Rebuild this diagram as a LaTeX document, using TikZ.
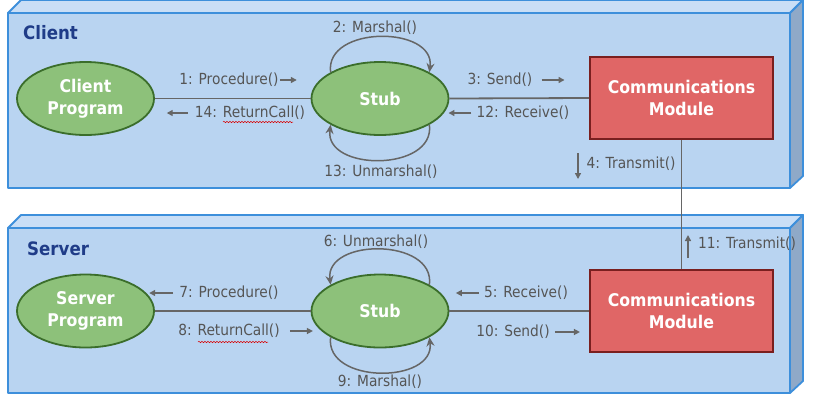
\documentclass[tikz,border=0pt]{standalone}
\usepackage{fontspec}
\setmainfont{DejaVu Sans}[FakeStretch=0.9]
\usetikzlibrary{arrows.meta,shapes.geometric,decorations.pathmorphing}
\definecolor{frontc}{HTML}{B9D4F1}
\definecolor{topc}{HTML}{C9DEF6}
\definecolor{sidec}{HTML}{8FA9C8}
\definecolor{edgec}{HTML}{3D8FDB}
\definecolor{titlec}{HTML}{1F3C88}
\definecolor{greenf}{HTML}{8DC17A}
\definecolor{greend}{HTML}{3B6E2B}
\definecolor{redf}{HTML}{E06666}
\definecolor{redd}{HTML}{7A1F1F}
\definecolor{linec}{HTML}{666666}
\definecolor{textc}{HTML}{555555}
\tikzset{
  face/.style={draw=edgec, line width=1.8pt, line join=round},
  procnode/.style={ellipse, draw=greend, fill=greenf, line width=1.8pt,
    minimum width=137pt, minimum height=73pt, inner sep=0pt, align=center,
    text=white, font=\bfseries\fontsize{17.5}{22}\selectfont},
  modnode/.style={rectangle, draw=redd, fill=redf, line width=1.6pt,
    minimum width=183pt, minimum height=82pt, inner sep=0pt, align=center,
    text=white, font=\bfseries\fontsize{17.5}{22}\selectfont},
  conn/.style={draw=linec, line width=1.8pt},
  lbl/.style={text=textc, font=\fontsize{15.3}{18}\selectfont, inner sep=0pt, anchor=center},
  lblarrow/.style={draw=linec, line width=1.4pt, -{Triangle[length=6pt,width=6pt]}},
  looparrow/.style={draw=linec, line width=1.5pt, -{Stealth[length=9pt,width=8pt]}},
  titlelbl/.style={text=titlec, font=\bfseries\fontsize{18.5}{22}\selectfont, inner sep=0pt, anchor=west},
  spell/.style={draw=red!85!black, line width=0.5pt, decorate,
    decoration={snake, amplitude=0.7pt, segment length=3pt}}
}
\begin{document}
\begin{tikzpicture}[x=1pt,y=-1pt]
\useasboundingbox (0,0) rectangle (816,400);
% ---------- Client box ----------
\fill[white] (0,0) rectangle (816,400);
\draw[face, fill=topc] (8,13) -- (21,0) -- (803,0) -- (790,13) -- cycle;
\draw[face, fill=sidec] (790,13) -- (803,0) -- (803,176) -- (790,188) -- cycle;
\draw[face, fill=frontc] (8,13) rectangle (790,188);
% ---------- Server box ----------
\draw[face, fill=topc] (8,228) -- (21,215) -- (803,215) -- (790,228) -- cycle;
\draw[face, fill=sidec] (790,228) -- (803,215) -- (803,381) -- (790,393) -- cycle;
\draw[face, fill=frontc] (8,228) rectangle (790,393);
% titles
\node[titlelbl] (tclient) at (23,33) {Client};
\node[titlelbl] (tserver) at (27,249) {Server};
% ---------- nodes ----------
\node[procnode] (cprog) at (85.5,98.5) {Client\\Program};
\node[procnode] (cstub) at (380,98.5) {Stub};
\node[modnode]  (ccom)  at (681.5,98) {Communications\\Module};
\node[procnode] (sprog) at (85.5,311) {Server\\Program};
\node[procnode] (sstub) at (380,311) {Stub};
\node[modnode]  (scom)  at (681.5,311) {Communications\\Module};
% ---------- connectors ----------
\draw[conn] (cprog.east) -- (cstub.west);
\draw[conn] (cstub.east) -- (ccom.west);
\draw[conn] (sprog.east) -- (sstub.west);
\draw[conn] (sstub.east) -- (scom.west);
\draw[conn] (ccom.south) -- (scom.north);
% loops
\draw[looparrow] (cstub.152) .. controls +(-6,-47) and +(6,-47) .. (cstub.28);
\draw[looparrow] (cstub.-28) .. controls +(6,47) and +(-6,47) .. (cstub.-152);
\draw[looparrow] (sstub.28) .. controls +(6,-47) and +(-6,-47) .. (sstub.152);
\draw[looparrow] (sstub.-152) .. controls +(-6,47) and +(6,47) .. (sstub.-28);
% ---------- client labels ----------
\node[lbl] (l1) at (229,80) {1: Procedure()};
\draw[lblarrow] ([xshift=1pt]l1.east) -- ++(17,0);
\node[lbl] (l14) at (250,113) {14: ReturnCall()};
\draw[lblarrow] ([xshift=-7pt]l14.west) -- ++(-21,0);
\draw[spell] (223,122) -- (293,122);
\node[lbl] (l2) at (375,28) {2: Marshal()};
\node[lbl] (l13) at (381,172) {13: Unmarshal()};
\node[lbl] (l3) at (500,80) {3: Send()};
\draw[lblarrow] ([xshift=9pt]l3.east) -- ++(23,0);
\node[lbl] (l12) at (523,113) {12: Receive()};
\draw[lblarrow] ([xshift=-5pt]l12.west) -- ++(-23,0);
\node[lbl] (l4) at (631,164) {4: Transmit()};
\draw[lblarrow] (578,153) -- (578,179);
% ---------- server labels ----------
\node[lbl] (l6) at (376,242) {6: Unmarshal()};
\node[lbl] (l9) at (380,382) {9: Marshal()};
\node[lbl] (l5) at (526,293) {5: Receive()};
\draw[lblarrow] ([xshift=-5pt]l5.west) -- ++(-23,0);
\node[lbl] (l10) at (513,332) {10: Send()};
\draw[lblarrow] ([xshift=5pt]l10.east) -- ++(25,0);
\node[lbl] (l11) at (747,244) {11: Transmit()};
\draw[lblarrow] (688,258) -- (688,235);
\node[lbl] (l7) at (229,293) {7: Procedure()};
\draw[lblarrow] ([xshift=-6pt]l7.west) -- ++(-24,0);
\node[lbl] (l8) at (229,331) {8: ReturnCall()};
\draw[lblarrow] ([xshift=10pt]l8.east) -- ++(23,0);
\draw[spell] (198,342) -- (268,342);
\end{tikzpicture}
\end{document}
